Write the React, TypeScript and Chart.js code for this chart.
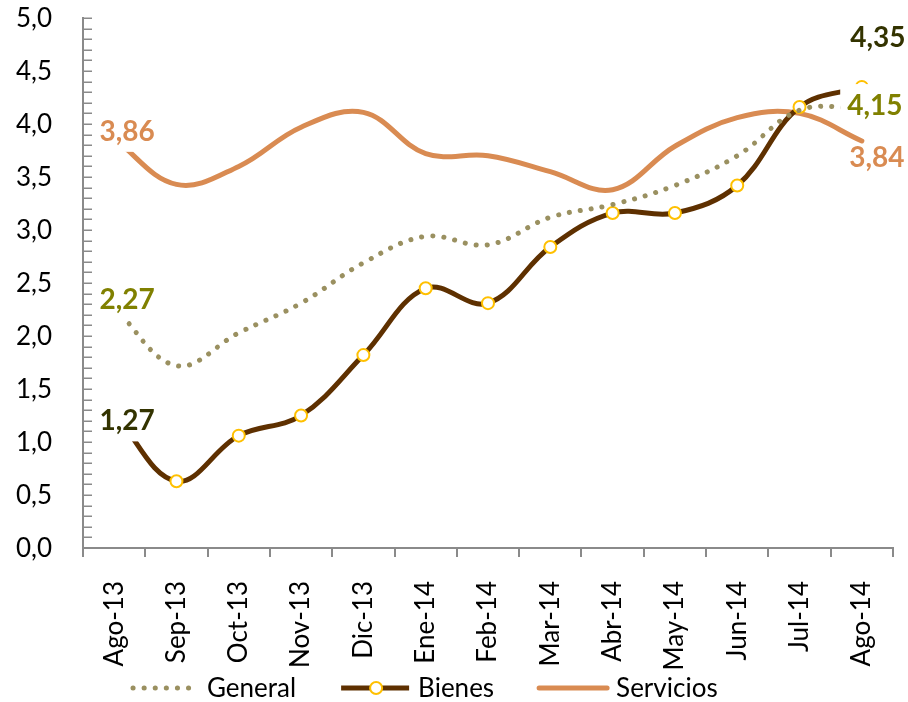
import React, { useEffect, useRef } from "react";
import { Chart, registerables } from "chart.js";

Chart.register(...registerables);

const categories = ["Ago-13", "Sep-13", "Oct-13", "Nov-13", "Dic-13", "Ene-14", "Feb-14", "Mar-14", "Abr-14", "May-14", "Jun-14", "Jul-14", "Ago-14"];
const seriesNames = ["General", "Bienes", "Servicios"];
const generalValues = [2.27, 1.72, 2.03, 2.31, 2.69, 2.94, 2.86, 3.12, 3.24, 3.42, 3.70, 4.13, 4.15];
const bienesValues = [1.27, 0.63, 1.06, 1.25, 1.82, 2.45, 2.31, 2.84, 3.16, 3.16, 3.42, 4.16, 4.35];
const serviciosValues = [3.86, 3.43, 3.60, 3.97, 4.11, 3.72, 3.70, 3.55, 3.38, 3.79, 4.06, 4.10, 3.84];
const yMin = 0;
const yMax = 5;
const yStep = 0.5;
const yMinorStep = 0.1;

const FONT = "Lato, 'Open Sans', sans-serif";
const colGeneral = "#9A9060";
const colBienes = "#5E3000";
const colServicios = "#D98B52";
const colMarkerBorder = "#FFC000";
const labelColors = ["#808000", "#333300", "#D98B52"];
const axisColor = "#8A8A8A";

const fmt = (v: number, d: number) => v.toFixed(d).replace(".", ",");

// which value labels are shown, and their offsets from the point (style)
const dataLabels = [
  { ds: 2, i: 0, dx: 13, dy: -8, bg: true },
  { ds: 0, i: 0, dx: 13, dy: -8, bg: true },
  { ds: 1, i: 0, dx: 13, dy: 7, bg: true },
  { ds: 1, i: 12, dx: 16, dy: -50, bg: false },
  { ds: 0, i: 12, dx: 13, dy: -3, bg: true },
  { ds: 2, i: 12, dx: 15, dy: 16, bg: false },
];

const yAxisPlugin = {
  id: "yAxisDecor",
  beforeDatasetsDraw(chart: any) {
    const ctx = chart.ctx;
    const y = chart.scales.y;
    const left = chart.chartArea.left;
    ctx.save();
    ctx.strokeStyle = axisColor;
    ctx.lineWidth = 1.5;
    const n = Math.round((yMax - yMin) / yMinorStep);
    for (let k = 0; k <= n; k++) {
      const py = Math.round(y.getPixelForValue(yMin + k * yMinorStep)) + 0.25;
      ctx.beginPath();
      ctx.moveTo(left, py);
      ctx.lineTo(left + 9, py);
      ctx.stroke();
    }
    ctx.font = `26px ${FONT}`;
    ctx.fillStyle = "#000000";
    ctx.textAlign = "right";
    ctx.textBaseline = "middle";
    for (const t of y.ticks) {
      ctx.fillText(fmt(Number(t.value), 1), left - 31, y.getPixelForValue(t.value) + 1);
    }
    ctx.restore();
  },
};

const valueLabelsPlugin = {
  id: "valueLabels",
  afterDatasetsDraw(chart: any) {
    const ctx = chart.ctx;
    ctx.save();
    ctx.font = `bold 28px ${FONT}`;
    ctx.textAlign = "left";
    ctx.textBaseline = "alphabetic";
    for (const l of dataLabels) {
      const meta = chart.getDatasetMeta(l.ds);
      const pt = meta.data[l.i];
      const v = chart.data.datasets[l.ds].data[l.i] as number;
      const text = fmt(v, 2);
      const w = ctx.measureText(text).width;
      const cx = pt.x + l.dx;
      const cy = pt.y + l.dy;
      if (l.bg) {
        ctx.fillStyle = "#ffffff";
        ctx.fillRect(cx - w / 2 - 7, cy - 21, w + 14, 42);
      }
      ctx.fillStyle = labelColors[l.ds];
      ctx.fillText(text, cx - w / 2, cy + 10);
    }
    ctx.restore();
  },
};

const legendPlugin = {
  id: "customLegend",
  afterDraw(chart: any) {
    const ctx = chart.ctx;
    const baseY = 697;
    const lineY = 688;
    let x = 130;
    ctx.save();
    ctx.font = `26px ${FONT}`;
    ctx.textBaseline = "alphabetic";
    ctx.textAlign = "left";
    chart.data.datasets.forEach((ds: any, idx: number) => {
      ctx.save();
      ctx.strokeStyle = ds.borderColor;
      ctx.lineWidth = ds.borderWidth;
      ctx.lineCap = ds.borderCapStyle || "butt";
      ctx.setLineDash(ds.borderDash || []);
      ctx.beginPath();
      ctx.moveTo(x + (idx === 0 ? 3 : 0), lineY);
      ctx.lineTo(x + 68, lineY);
      ctx.stroke();
      ctx.setLineDash([]);
      if (ds.pointRadius > 0) {
        ctx.beginPath();
        ctx.arc(x + 35, lineY, ds.pointRadius, 0, Math.PI * 2);
        ctx.fillStyle = ds.pointBackgroundColor;
        ctx.fill();
        ctx.lineWidth = ds.pointBorderWidth;
        ctx.strokeStyle = ds.pointBorderColor;
        ctx.stroke();
      }
      ctx.restore();
      const tx = x + 77;
      ctx.fillStyle = "#000000";
      ctx.fillText(ds.label, tx, baseY);
      x = tx + ctx.measureText(ds.label).width + 45;
    });
    ctx.restore();
  },
};

export default function App() {
  const ref = useRef<HTMLCanvasElement | null>(null);
  useEffect(() => {
    if (!ref.current) return;
    const chart = new Chart(ref.current, {
      type: "line",
      data: {
        labels: categories,
        datasets: [
          {
            label: seriesNames[0],
            data: generalValues,
            borderColor: colGeneral,
            borderWidth: 5,
            borderDash: [0.1, 11],
            borderCapStyle: "round",
            pointRadius: 0,
            tension: 0.38,
            fill: false,
          },
          {
            label: seriesNames[1],
            data: bienesValues,
            borderColor: colBienes,
            borderWidth: 5,
            borderCapStyle: "butt",
            pointRadius: 6,
            pointBackgroundColor: "#ffffff",
            pointBorderColor: colMarkerBorder,
            pointBorderWidth: 2,
            tension: 0.38,
            fill: false,
          },
          {
            label: seriesNames[2],
            data: serviciosValues,
            borderColor: colServicios,
            borderWidth: 5,
            borderCapStyle: "round",
            pointRadius: 0,
            tension: 0.38,
            fill: false,
          },
        ],
      } as any,
      options: {
        animation: false,
        responsive: true,
        maintainAspectRatio: false,
        layout: { padding: { left: 0, right: 15, top: 18, bottom: 0 } },
        plugins: {
          legend: { display: false },
          tooltip: { enabled: false },
        },
        scales: {
          x: {
            type: "category",
            offset: true,
            grid: {
              display: true,
              offset: true,
              drawOnChartArea: false,
              drawTicks: true,
              tickLength: 9,
              color: axisColor,
              lineWidth: 2,
            },
            border: { display: true, color: axisColor, width: 2 },
            ticks: {
              minRotation: 90,
              maxRotation: 90,
              autoSkip: false,
              padding: 24,
              color: "#000000",
              font: { family: FONT, size: 26 },
            },
            afterFit(scale: any) {
              scale.height = 154;
              scale.paddingLeft = 0;
              scale.paddingRight = 0;
            },
          },
          y: {
            min: yMin,
            max: yMax,
            grid: { display: false, drawTicks: false },
            border: { display: true, color: axisColor, width: 2 },
            ticks: {
              stepSize: yStep,
              display: false,
            },
            afterFit(scale: any) {
              scale.width = 83;
              scale.paddingTop = 0;
              scale.paddingBottom = 0;
            },
          },
        },
      } as any,
      plugins: [yAxisPlugin, valueLabelsPlugin, legendPlugin],
    });
    return () => chart.destroy();
  }, []);
  return (
    <div style={{ position: "fixed", left: 0, top: 0, width: 908, height: 702, background: "#ffffff" }}>
      <canvas ref={ref} />
    </div>
  );
}
